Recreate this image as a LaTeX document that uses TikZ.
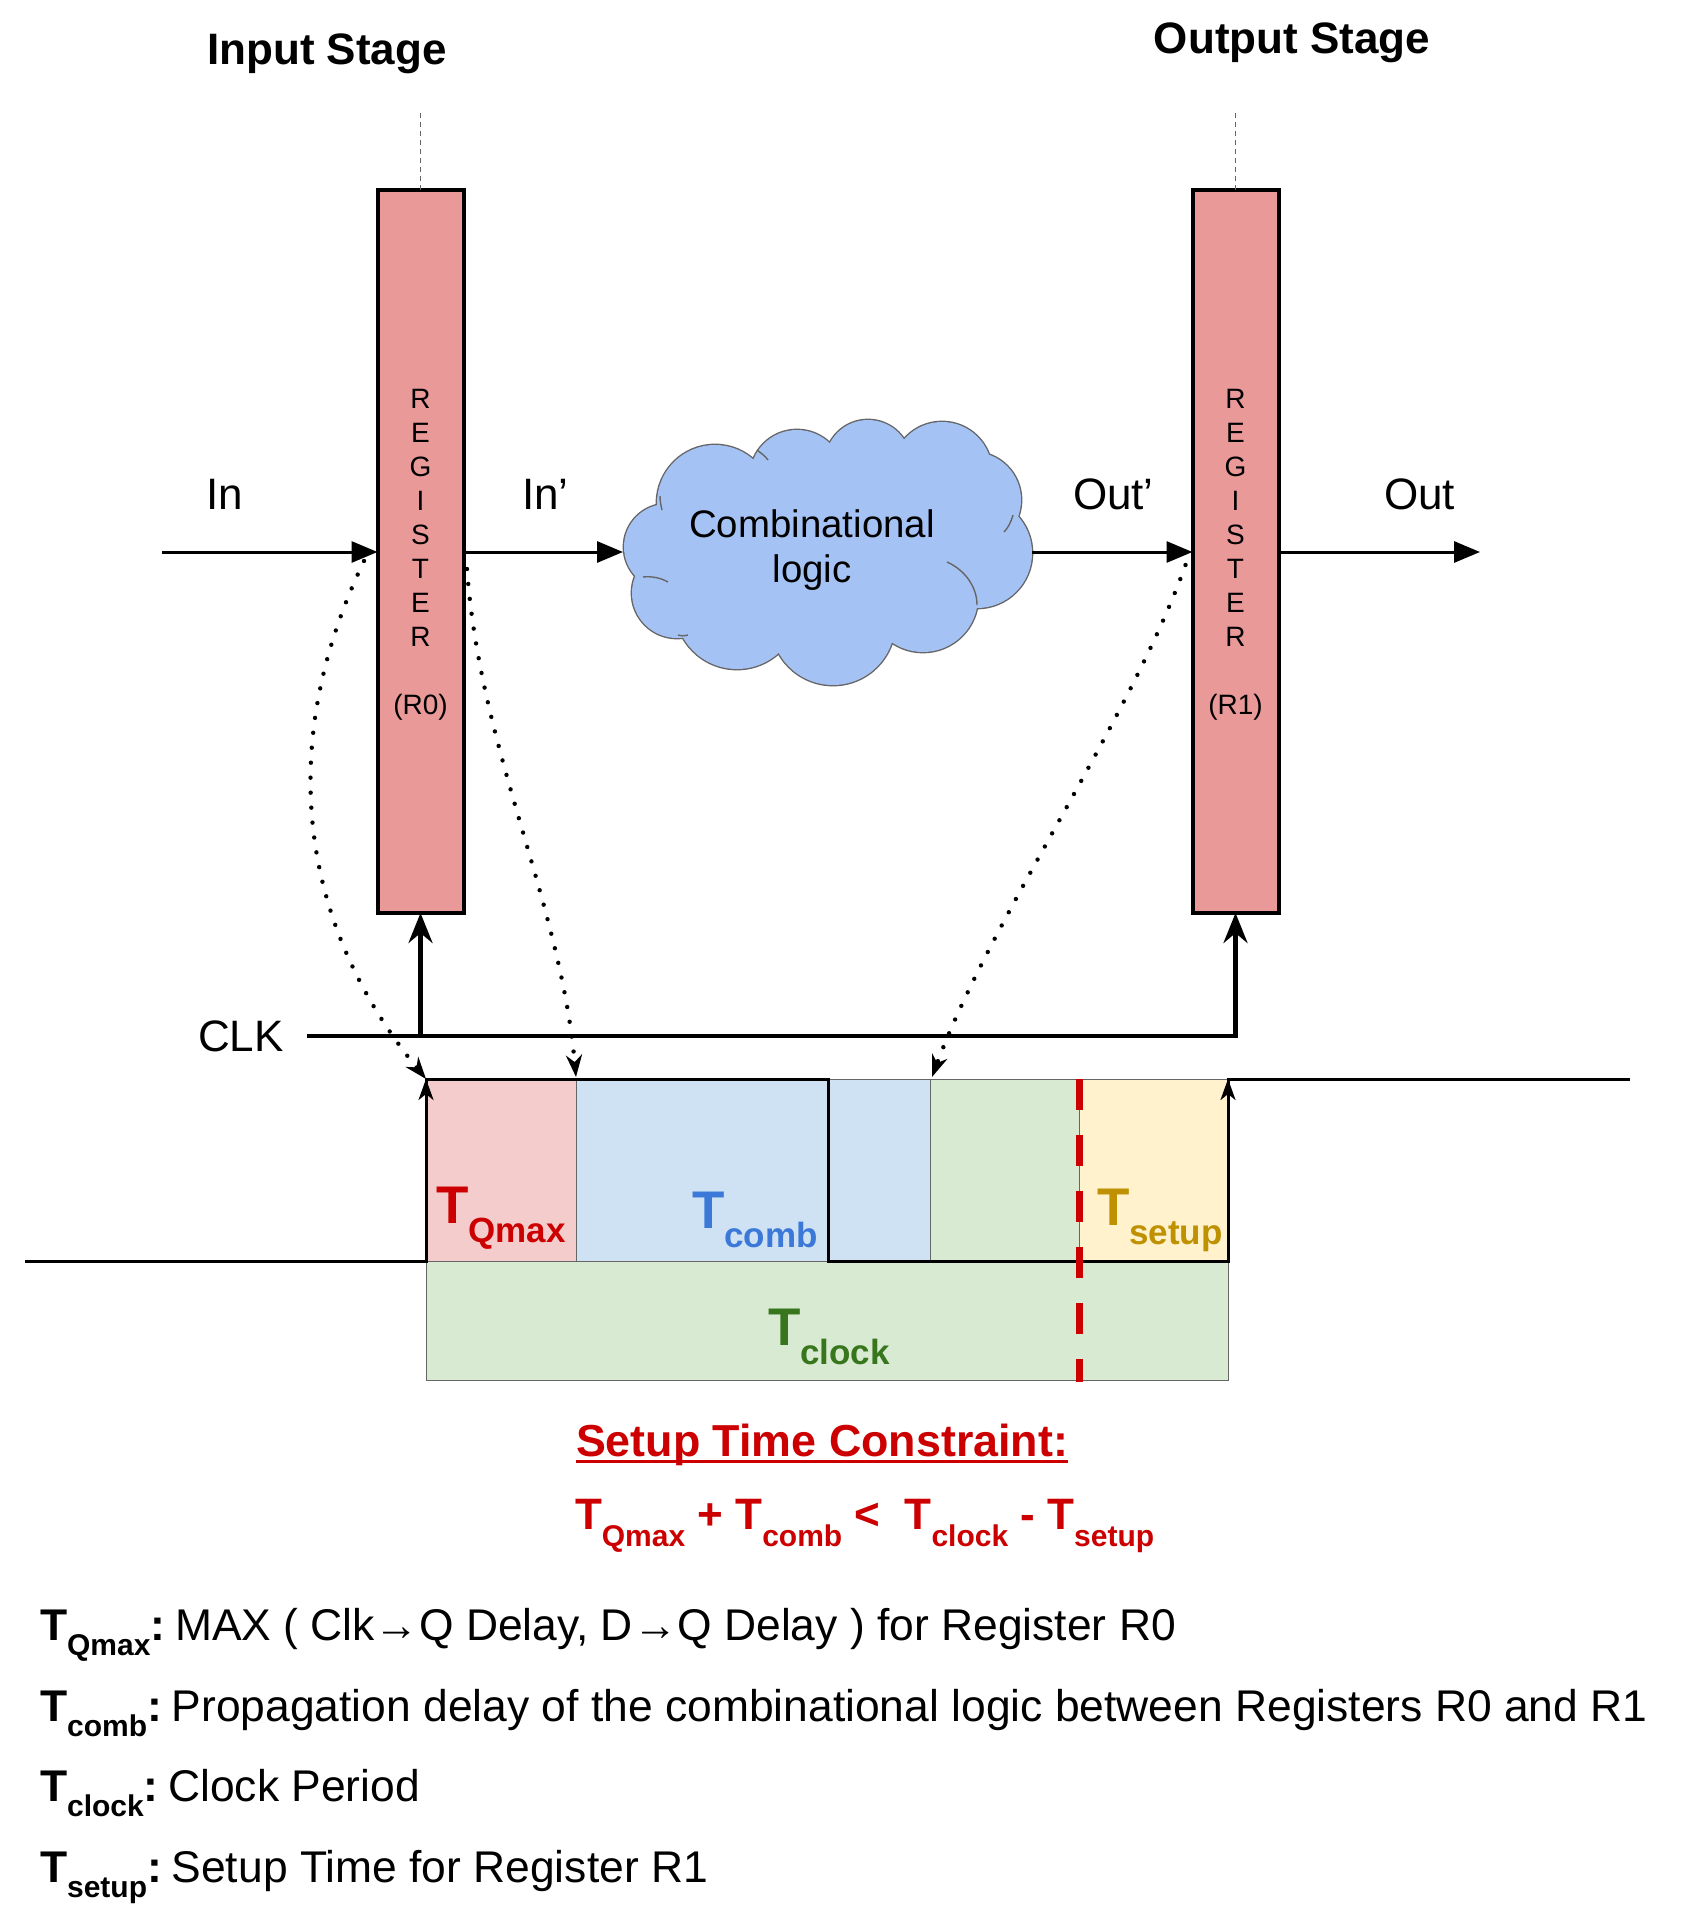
\documentclass[tikz,border=0pt]{standalone}
\usepackage{fontspec}
\setmainfont{Liberation Sans}
\usetikzlibrary{arrows.meta,calc}
\definecolor{regfill}{HTML}{EA9999}
\definecolor{cloudfill}{HTML}{A4C2F4}
\definecolor{edgegray}{HTML}{666666}
\definecolor{qpink}{HTML}{F4CCCC}
\definecolor{qbluebg}{HTML}{CFE2F3}
\definecolor{qgreenbg}{HTML}{D9EAD3}
\definecolor{qyellowbg}{HTML}{FFF2CC}
\definecolor{qred}{HTML}{CC0000}
\definecolor{qblue}{HTML}{3C78D8}
\definecolor{qgold}{HTML}{BF9000}
\definecolor{qgreen}{HTML}{38761D}
\newcommand{\Tw}[1]{T\raisebox{-9.5pt}{\fontsize{17.5}{17.5}\selectfont #1}}
\newcommand{\Tf}[1]{T\raisebox{-8.5pt}{\fontsize{15}{15}\selectfont #1}}
\newcommand{\Tl}[1]{T\raisebox{-7.5pt}{\fontsize{15}{15}\selectfont #1}}
\begin{document}
\begin{tikzpicture}[x=0.5pt,y=-0.5pt,
  every node/.style={inner sep=0pt, outer sep=0pt},
  reg/.style={draw, line width=2pt, fill=regfill, minimum width=43pt, minimum height=361.5pt},
  regtxt/.style={align=center, font=\fontsize{14}{17}\selectfont},
  lbl/.style={font=\fontsize{22}{22}\selectfont},
  legtxt/.style={font=\fontsize{22.2}{22.2}\selectfont},
  title/.style={font=\bfseries\fontsize{22}{22}\selectfont},
  sig/.style={line width=1.5pt, -{Triangle[length=13pt,width=10.5pt]}},
  clkln/.style={line width=2.25pt, -{Stealth[length=15pt,width=12pt,inset=5pt]}},
  guide/.style={edgegray, line width=0.5pt, dash pattern=on 2.5pt off 2pt},
  dots/.style={line width=2.2pt, line cap=round, dash pattern=on 0pt off 7.5pt, -{Stealth[length=11pt,width=8pt,inset=3.5pt]}},
  wave/.style={line width=1.5pt, line join=miter},
  edgetip/.style={line width=1.5pt, -{Stealth[length=10.5pt,width=7.5pt,inset=3pt]}},
  box/.style={draw=edgegray, line width=0.5pt},
  wl/.style={font=\bfseries\fontsize{26.5}{26.5}\selectfont},
  cloudline/.style={draw=edgegray, line width=1.4pt},
  cloudinner/.style={draw=edgegray, line width=0.7pt},
]
\useasboundingbox (0,0) rectangle (1680,1920);

% titles
\node[title, anchor=base] (instage) at (327,65) {Input Stage};
\node[title, anchor=base] (outstage) at (1292,54) {Output Stage};

% registers
\node[reg] (r0) at (420.5,551.5) {};
\node[reg] (r1) at (1235.5,551.5) {};
\node[regtxt, anchor=north] (r0t) at (420.5,389) {R\\E\\G\\I\\S\\T\\E\\R\\[17pt](R0)};
\node[regtxt, anchor=north] (r1t) at (1235.5,389) {R\\E\\G\\I\\S\\T\\E\\R\\[17pt](R1)};
\draw[guide] (r0.north) -- ++(0,-78);
\draw[guide] (r1.north) -- ++(0,-78);

% cloud
\foreach \cx/\cy/\r in {715/503/58, 797/477/47, 868/463/43, 942/472/50, 973/500/48, 977/553/55, 923/597/55, 833/623/62, 737/607/62, 677/593/45, 667/547/43}
  \draw[cloudline] (\cx,\cy) circle[radius=\r];
\foreach \cx/\cy/\r in {715/503/58, 797/477/47, 868/463/43, 942/472/50, 973/500/48, 977/553/55, 923/597/55, 833/623/62, 737/607/62, 677/593/45, 667/547/43, 885/505/40}
  \fill[cloudfill] (\cx,\cy) circle[radius=\r];
\fill[cloudfill] (830,550) ellipse[x radius=140, y radius=60];
\draw[cloudinner] (947,562) .. controls (965,570) and (977,587) .. (977,605);
\draw[cloudinner] (643,577) .. controls (652,576) and (661,578) .. (668,582);
\draw[cloudinner] (1013,515) .. controls (1011,522) and (1008,528) .. (1004,532);
\draw[cloudinner] (660,496) .. controls (660,501) and (661,506) .. (662,510);
\draw[cloudinner] (757,450) .. controls (761,453) and (765,456) .. (768,460);
\draw[cloudinner] (678,635) .. controls (681,636) and (685,636) .. (688,635);
\node[font=\fontsize{19.2}{22.5}\selectfont, align=center, anchor=north] (cloudtxt) at (812,510) {Combinational\\logic};
\coordinate (cloudW) at (623,552);
\coordinate (cloudE) at (1032,552);

% signal arrows
\coordinate (inS) at (162,552);
\coordinate (outE) at (1480,552);
\draw[sig] (inS) -- (inS -| r0.west);
\draw[sig] (r0.east |- inS) -- (cloudW);
\draw[sig] (cloudE) -- (cloudE -| r1.west);
\draw[sig] (r1.east |- inS) -- (outE);
\node[lbl, anchor=base west] (inlbl) at (206,509) {In};
\node[lbl, anchor=base west] (inplbl) at (522,509) {In’};
\node[lbl, anchor=base west] (outplbl) at (1073,509) {Out’};
\node[lbl, anchor=base west] (outlbl) at (1384,509) {Out};

% clock
\coordinate (clkL) at (307,1036);
\node[lbl, anchor=base west] (clktxt) at (198,1051) {CLK};
\draw[clkln] (clkL) -- (clkL -| r1.south) -- (r1.south);
\draw[clkln] (clkL -| r0.south) -- (r0.south);

% timing boxes
\path[box, fill=qpink] (426,1079) rectangle (576,1261);
\path[box, fill=qbluebg] (576,1079) rectangle (828,1261);
\path[box, fill=qbluebg] (828,1079) rectangle (930,1261);
\path[box, fill=qgreenbg] (930,1079) rectangle (1079,1261);
\path[box, fill=qyellowbg] (1079,1079) rectangle (1228,1261);
\path[box, fill=qgreenbg] (426,1261) rectangle (1228,1380);

% waveform
\coordinate (wL) at (25,1261);
\coordinate (e1b) at (426,1261);
\coordinate (e1t) at (426,1079);
\coordinate (f1t) at (828,1079);
\coordinate (f1b) at (828,1261);
\coordinate (e2b) at (1228,1261);
\coordinate (e2t) at (1228,1079);
\coordinate (wR) at (1630,1079);
\draw[wave] (wL) -- (e1b) -- (e1t) -- (f1t) -- (f1b) -- (e2b) -- (e2t) -- (wR);
\draw[edgetip] (e1b) -- (e1t);
\draw[edgetip] (e2b) -- (e2t);

% setup boundary
\draw[qred, line width=3.5pt, dash pattern=on 15.5pt off 12.5pt] (1079,1079) -- (1079,1382);

% timing labels
\node[wl, text=qred, anchor=base west] (tq) at (436,1223) {\Tw{Qmax}};
\node[wl, text=qblue, anchor=base west] (tc) at (692,1228) {\Tw{comb}};
\node[wl, text=qgold, anchor=base west] (ts) at (1097,1225) {\Tw{setup}};
\node[wl, text=qgreen, anchor=base west] (tk) at (768,1345) {\Tw{clock}};

% dotted timing arrows
\coordinate (q2) at (576,1077);
\coordinate (q3) at (932,1077);
\draw[dots] ([shift={(-13.5,9.5)}]r0.west) .. controls (269,759) and (309,936) .. (e1t);
\draw[dots] ([shift={(3.5,17.5)}]r0.east) .. controls (480,750) and (560,900) .. (q2);
\draw[dots] ([shift={(-7,13.5)}]r1.west) .. controls (1130,720) and (990,920) .. (q3);

% constraint
\node[anchor=base west, text=qred, font=\bfseries\fontsize{22.4}{22.4}\selectfont] (stc) at (576,1456) {Setup Time Constraint:};
\draw[qred, line width=1.5pt] ([yshift=-2.5pt]stc.base west) -- ([yshift=-2.5pt]stc.base east);
\node[anchor=base west, text=qred, font=\bfseries\fontsize{22}{22}\selectfont] (formula) at (575,1529) {\Tf{Qmax} + \Tf{comb} <~ \Tf{clock} - \Tf{setup}};

% legend
\node[legtxt, anchor=base west] (leg1) at (40,1640) {\textbf{\Tl{Qmax}:}\hspace{0.22em}MAX ( Clk→Q Delay, D→Q Delay ) for Register R0};
\node[legtxt, anchor=base west] (leg2) at (40,1721) {\textbf{\Tl{comb}:}\hspace{0.22em}Propagation delay of the combinational logic between Registers R0 and R1};
\node[legtxt, anchor=base west] (leg3) at (40,1801) {\textbf{\Tl{clock}:}\hspace{0.22em}Clock Period};
\node[legtxt, anchor=base west] (leg4) at (40,1882) {\textbf{\Tl{setup}:}\hspace{0.22em}Setup Time for Register R1};
\end{tikzpicture}
\end{document}
